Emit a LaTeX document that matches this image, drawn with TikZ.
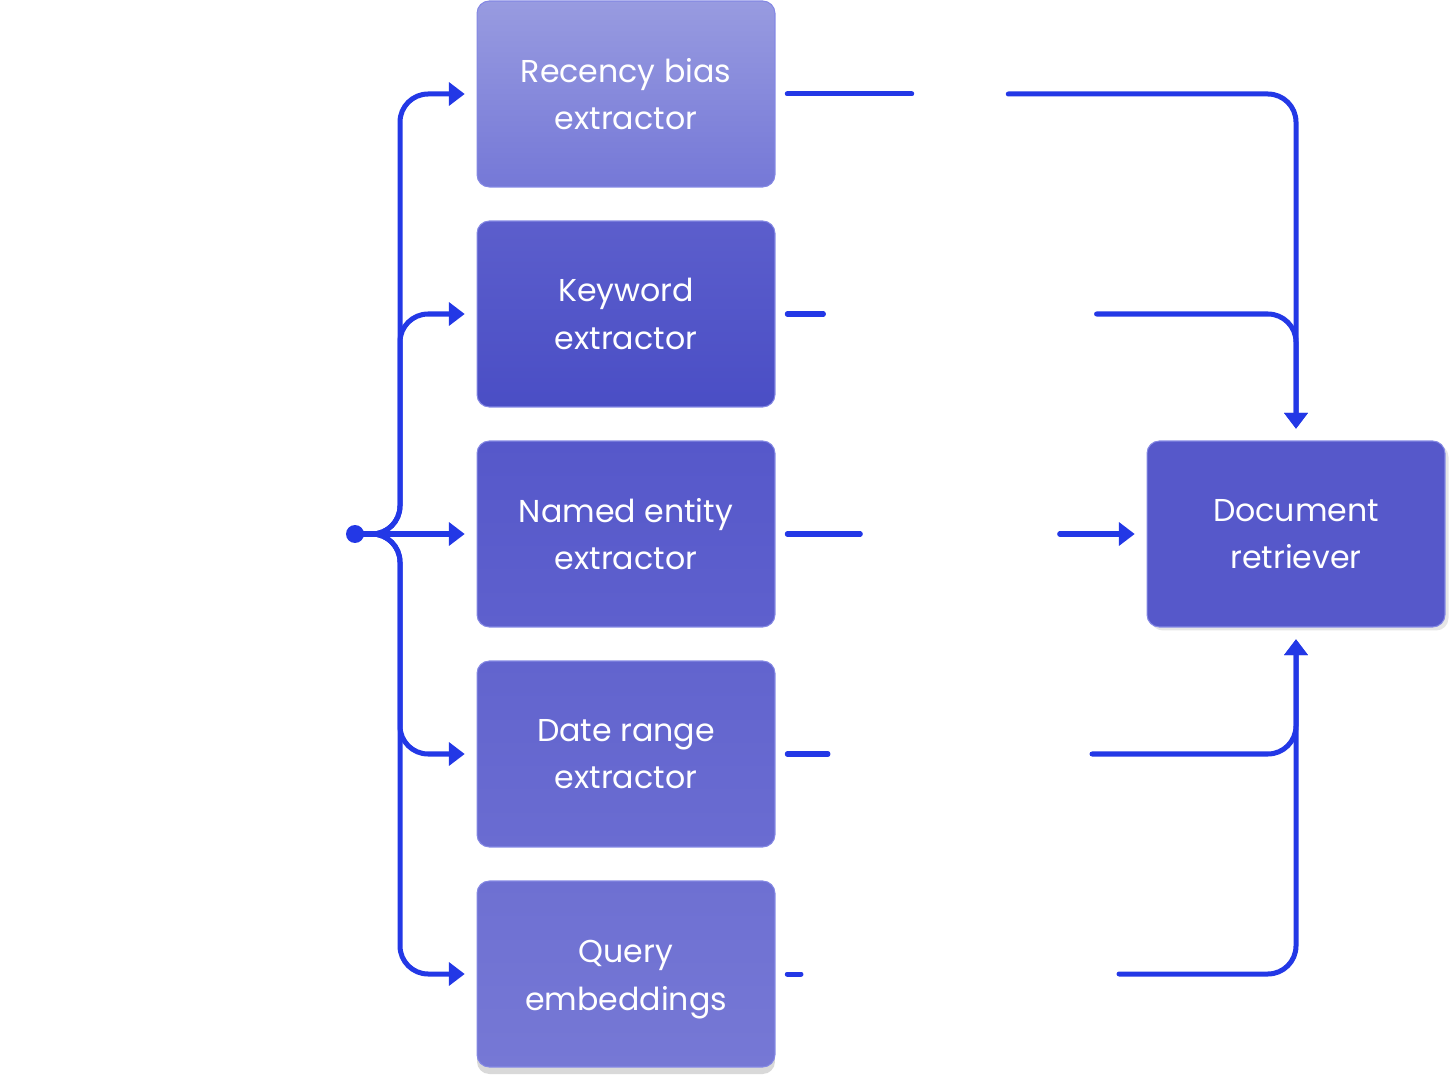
\documentclass[tikz,border=0pt]{standalone}
\usepackage{fontspec}
\setmainfont{Poppins}
\usetikzlibrary{arrows.meta,shadows}
\definecolor{flowblue}{RGB}{35,56,230}
\definecolor{boxedge}{RGB}{132,136,228}
\begin{document}
\begin{tikzpicture}[x=0.02cm,y=-0.02cm,
  box/.style={draw=boxedge,line width=0.6pt,rounded corners=7pt,minimum width=5.96cm,
    minimum height=3.72cm,outer sep=7pt,align=center,text=white,
    font=\fontsize{18}{27}\selectfont},
  lbl/.style={inner xsep=0.32cm,inner ysep=0pt,outer sep=0pt,align=center,text=white,
    font=\fontsize{18}{27}\selectfont},
  flow/.style={draw=flowblue,line width=2.85pt,line cap=round,rounded corners=16pt},
  tip/.style={-{Triangle[length=9pt,width=13pt]}}]
\useasboundingbox (0,0) rectangle (1454,1084);

%QUERY
  \node (q) at (165,530) [align=center,text=white,font=\fontsize{18}{29}\selectfont]
    {Reformulated Query\\“What did Alex work\\on yesterday?”};
  \node (dot) at (355,534) [circle,fill=flowblue,inner sep=0pt,minimum size=0.36cm] {};
  \coordinate (tr) at (400,534);

%EXTRACTORS
  \node (rb) at (626,94) [box,top color={rgb,255:red,152;green,155;blue,224},
    bottom color={rgb,255:red,117;green,120;blue,215}] {Recency bias\\extractor};
  \node (ke) at (626,314) [box,top color={rgb,255:red,92;green,94;blue,204},
    bottom color={rgb,255:red,74;green,78;blue,197}] {Keyword\\extractor};
  \node (ne) at (626,534) [box,top color={rgb,255:red,86;green,88;blue,202},
    bottom color={rgb,255:red,94;green,96;blue,205}] {Named entity\\extractor};
  \node (de) at (626,754) [box,top color={rgb,255:red,98;green,100;blue,206},
    bottom color={rgb,255:red,106;green,108;blue,209}] {Date range\\extractor};
  \node (qe) at (626,974) [box,drop shadow={shadow xshift=0pt,shadow yshift=-4pt,opacity=.3},
    top color={rgb,255:red,110;green,112;blue,210},
    bottom color={rgb,255:red,118;green,120;blue,213}] {Query\strut\\embeddings};

%RETRIEVER
  \node (dr) at (1296,534) [box,drop shadow={shadow xshift=2pt,shadow yshift=-2pt,opacity=.2},
    fill={rgb,255:red,86;green,88;blue,202}] {Document\\retriever};

%LABELS
  \node (l1) at (960,94) [lbl] {0.20};
  \node (l2) at (960,314) [lbl] {work (0.8)\\yesterday (0.6)};
  \node (l3) at (960,534) [lbl] {Alex (0.99)};
  \node (l4) at (960,754) [lbl] {09/26 to 09/27\\(0.85)};
  \node (l5) at (960,974) [lbl] {[0.12, -0.34, 0.56,...]};

%LEFT BRANCHES
  \draw[flow,tip] (dot.center) -- (tr) |- (rb.west);
  \draw[flow,tip] (dot.center) -- (tr) |- (ke.west);
  \draw[flow,tip] (dot.center) -- (ne.west);
  \draw[flow,tip] (dot.center) -- (tr) |- (de.west);
  \draw[flow,tip] (dot.center) -- (tr) |- (qe.west);

%RIGHT BRANCHES
  \draw[flow] (rb.east) -- (l1.west);
  \draw[flow,tip] (l1.east) -| (dr.north);
  \draw[flow] (ke.east) -- (l2.west);
  \draw[flow,tip] (l2.east) -| (dr.north);
  \draw[flow] (ne.east) -- (l3.west);
  \draw[flow,tip] (l3.east) -- (dr.west);
  \draw[flow] (de.east) -- (l4.west);
  \draw[flow,tip] (l4.east) -| (dr.south);
  \draw[flow] (qe.east) -- (l5.west);
  \draw[flow,tip] (l5.east) -| (dr.south);
\end{tikzpicture}
\end{document}
